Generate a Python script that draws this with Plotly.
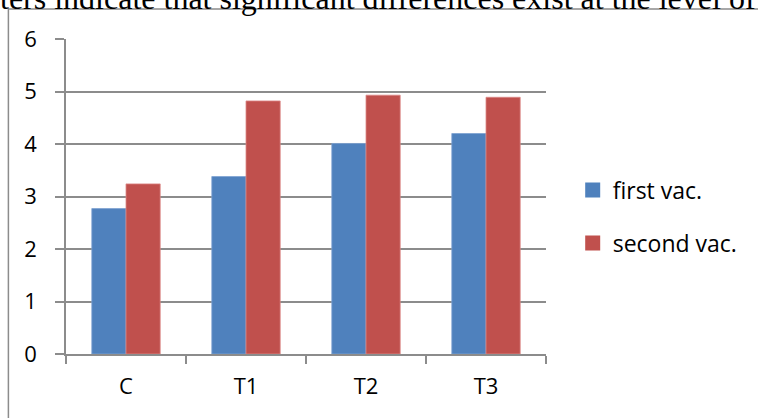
import plotly.graph_objects as go

categories = ["C", "T1", "T2", "T3"]
first_vac = [2.77, 3.38, 4.01, 4.20]
second_vac = [3.24, 4.82, 4.93, 4.89]
series_names = ["first vac.", "second vac."]
y_ticks = [0, 1, 2, 3, 4, 5, 6]
caption = "ters indicate that significant differences exist at the level of"

BLUE = "#4F81BD"
RED = "#C0504D"
GRID = "#8c8c8c"
FONT = "Open Sans"

W, H = 758, 418
L, R, T, B = 66.3, 758 - 546.3, 39.3, 418 - 353.7
pw, ph = W - L - R, H - T - B

def px_x(x):
    return (x - L) / pw

def px_y(y):
    return (H - B - y) / ph

fig = go.Figure()
fig.add_trace(go.Bar(x=categories, y=first_vac, name=series_names[0],
                     marker=dict(color=BLUE, line=dict(color="#7da2d2", width=0.8)),
                     showlegend=False))
fig.add_trace(go.Bar(x=categories, y=second_vac, name=series_names[1],
                     marker=dict(color=RED, line=dict(color="#dc8886", width=0.8)),
                     showlegend=False))
# legend entries
for nm, col, grp in [(series_names[0], BLUE, "a"), (series_names[1], RED, "b")]:
    fig.add_trace(go.Scatter(x=[None], y=[None], mode="markers", name=nm,
                             legendgroup=grp,
                             marker=dict(symbol="square", size=15, color=col)))

fig.update_layout(
    width=W, height=H,
    margin=dict(l=L, r=R, t=T, b=B, pad=0),
    paper_bgcolor="white", plot_bgcolor="white",
    barmode="group", bargap=0.43, bargroupgap=0,
    font=dict(family=FONT, size=22, color="black"),
    legend=dict(x=px_x(573), xanchor="left", y=px_y(216.5), yanchor="middle",
                font=dict(family=FONT, size=23, color="black"),
                tracegroupgap=20, bgcolor="rgba(0,0,0,0)", itemsizing="trace"),
    xaxis=dict(type="category", showline=True, linecolor=GRID, linewidth=1.5,
               ticks="outside", tickson="boundaries", ticklen=8, tickwidth=1.5,
               tickcolor=GRID, showgrid=False, ticklabelstandoff=12,
               tickfont=dict(family=FONT, size=22, color="black")),
    yaxis=dict(range=[0, 6], tickvals=y_ticks, showline=True, linecolor=GRID,
               linewidth=1.5, ticks="outside", ticklen=9, tickwidth=1.5,
               tickcolor=GRID, showgrid=True, gridcolor=GRID, gridwidth=1.5,
               zeroline=False, ticklabelstandoff=14,
               tickfont=dict(family=FONT, size=22, color="black")),
)

# outer chart border (partially cut off, like the reference)
fig.add_shape(type="rect", xref="paper", yref="paper",
              x0=px_x(8.7), x1=px_x(765), y0=px_y(425), y1=px_y(9.3),
              line=dict(color=GRID, width=1.5), fillcolor="rgba(0,0,0,0)", layer="below")

# cut-off caption line at the top
fig.add_annotation(text=caption, xref="paper", yref="paper",
                   x=px_x(-2), xanchor="left", y=px_y(-1.5), yanchor="middle",
                   showarrow=False,
                   font=dict(family="Liberation Serif", size=32, color="black"))

fig.write_html("out.html")
